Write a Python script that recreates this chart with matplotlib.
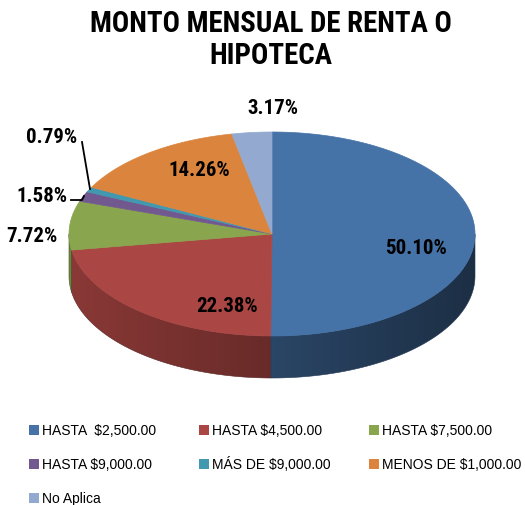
import numpy as np
import matplotlib
matplotlib.use('Agg')
import matplotlib.pyplot as plt
from matplotlib.patches import Polygon, Rectangle
from matplotlib.colors import to_rgb

categories = ['HASTA  $2,500.00', 'HASTA $4,500.00', 'HASTA $7,500.00',
              'HASTA $9,000.00', 'MÁS DE $9,000.00', 'MENOS DE $1,000.00',
              'No Aplica']
values = [50.10, 22.38, 7.72, 1.58, 0.79, 14.26, 3.17]
colors = ['#4572A7', '#AA4643', '#89A54E', '#71588F', '#4198AF', '#DB843D', '#93A9CF']

title = 'MONTO MENSUAL DE RENTA O\nHIPOTECA'

# label anchor points (pixels) and leader lines for the thin slices
label_pos = [(416, 248), (227, 307), (32, 237), (42, 196), (52, 137), (199, 170), (273, 108)]
leaders = {3: [(71, 201), (82, 201), (84, 197)],
           4: [(82, 143), (90, 190)]}

W, H = 525, 506
cx, cy = 272, 235
rx, ry = 203, 102
depth = 42

narrow = ['Roboto Condensed', 'PT Sans Narrow', 'Liberation Sans', 'DejaVu Sans']

fig = plt.figure(figsize=(W / 100, H / 100), dpi=100)
ax = fig.add_axes([0, 0, 1, 1])
ax.set_xlim(0, W)
ax.set_ylim(H, 0)
ax.axis('off')


def pt(t, dy=0.0):
    return cx + rx * np.cos(t), cy - ry * np.sin(t) + dy


# slice angles, clockwise from the top
fr = np.array(values) / sum(values)
edges = np.pi / 2 - 2 * np.pi * np.concatenate([[0], np.cumsum(fr)])

# horizontal shade ramp: lighter on the left side of the wall, darker on the right
xs = np.linspace(cx - rx, cx + rx, 400)
shade = 0.61 - 0.2 * (xs - cx) / rx

# front walls
for i, c in enumerate(colors):
    a0, a1 = edges[i + 1], edges[i]
    base = np.array(to_rgb(c))
    for k in (-1, 0):
        lo = max(a0, np.pi + 2 * np.pi * k)
        hi = min(a1, 2 * np.pi + 2 * np.pi * k)
        if hi <= lo:
            continue
        ts = np.linspace(lo, hi, 120)
        top = [pt(t) for t in ts]
        bot = [pt(t, depth) for t in ts[::-1]]
        wall = Polygon(top + bot, closed=True, facecolor='none', edgecolor='none')
        ax.add_patch(wall)
        img = np.clip(shade[None, :, None] * base[None, None, :], 0, 1)
        im = ax.imshow(img, extent=(cx - rx, cx + rx, cy + ry + depth + 2, cy - 2),
                       aspect='auto', interpolation='bilinear', zorder=1)
        im.set_clip_path(wall)
        ax.add_patch(Polygon(top + bot, closed=True, facecolor='none',
                             edgecolor=base * 0.5, lw=0.4, zorder=1.1))

# top face
for i, c in enumerate(colors):
    ts = np.linspace(edges[i], edges[i + 1], 200)
    poly = [(cx, cy)] + [pt(t) for t in ts]
    ax.add_patch(Polygon(poly, closed=True, facecolor=c, edgecolor=c, lw=0.5, zorder=2))

ax.set_xlim(0, W)
ax.set_ylim(H, 0)

# percentage labels
for i, v in enumerate(values):
    x, y = label_pos[i]
    ax.text(x, y, f'{v:.2f}%', ha='center', va='center', fontsize=15,
            fontweight='bold', family=narrow, color='black', zorder=5)
for i, line in leaders.items():
    lx, ly = zip(*line)
    ax.plot(lx, ly, color='black', lw=1.3, zorder=5)

ax.text(271, 40, title, ha='center', va='center', fontsize=20.8,
        fontweight='bold', family=narrow, linespacing=1.2)

# legend, three per row
for i, (lab, c) in enumerate(zip(categories, colors)):
    row, col = divmod(i, 3)
    x0 = 29 + col * 170
    y0 = 431 + row * 34
    ax.add_patch(Rectangle((x0, y0 - 5), 10, 10, facecolor=c, edgecolor='none'))
    ax.text(x0 + 13, y0, lab, ha='left', va='center', fontsize=10,
            family=['Liberation Sans', 'DejaVu Sans'])

fig.savefig('out.png', dpi=100)
